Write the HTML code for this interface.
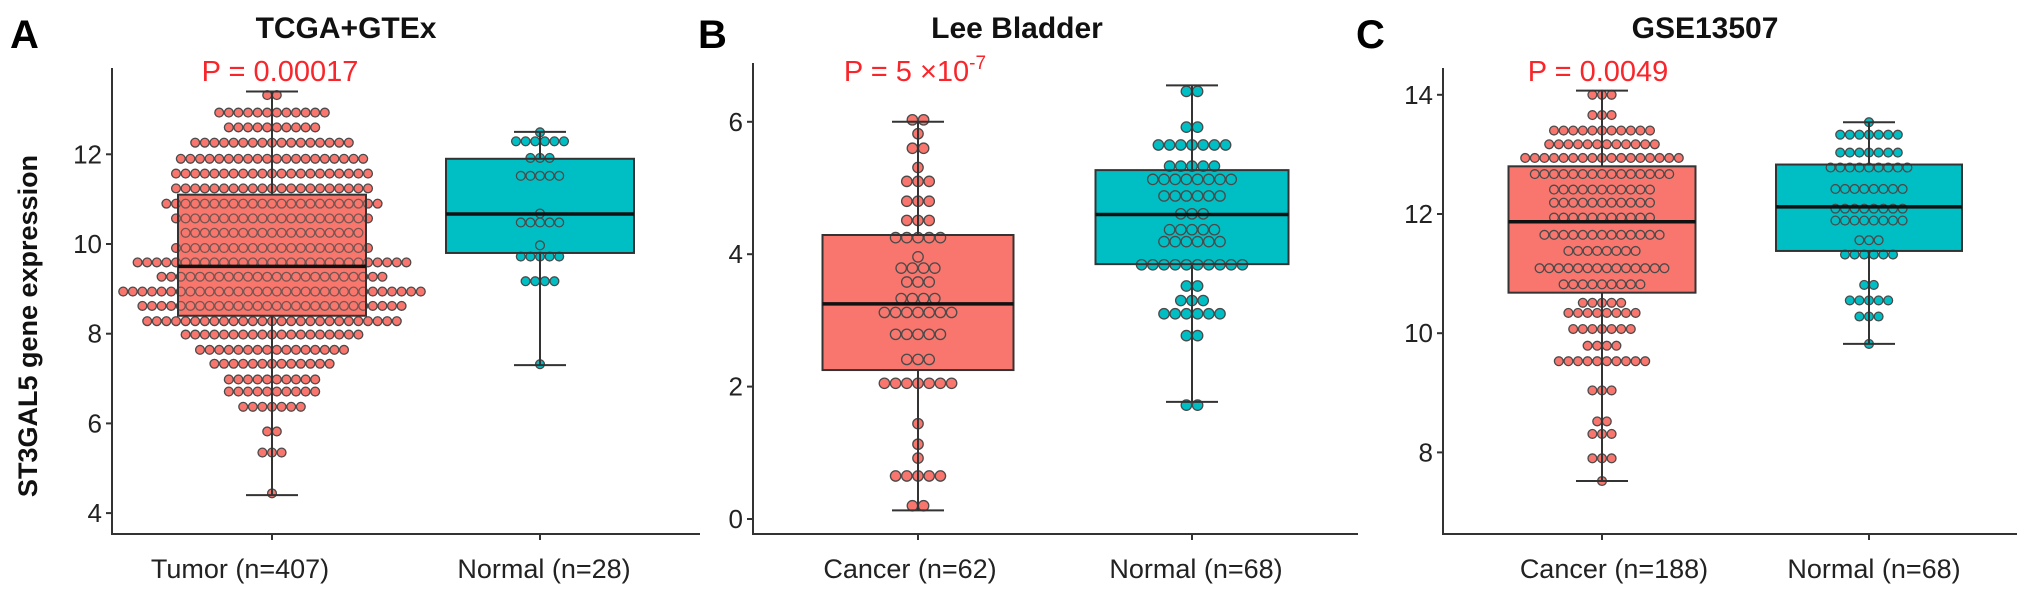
<!DOCTYPE html>
<html><head><meta charset="utf-8">
<style>
html,body{margin:0;padding:0;background:#fff;}
svg{display:block;font-family:"Liberation Sans",Arial,sans-serif;}
</style></head>
<body>
<svg id="fig" width="2031" height="596" viewBox="0 0 2031 596" xmlns="http://www.w3.org/2000/svg">
<text x="10" y="48" font-size="40" font-weight="bold">A</text>
<text x="698" y="48" font-size="40" font-weight="bold">B</text>
<text x="1356" y="48" font-size="40" font-weight="bold">C</text>
<text transform="translate(37,326) rotate(-90)" text-anchor="middle" font-size="27" font-weight="bold" fill="#111">ST3GAL5 gene expression</text>
</svg>
<script>
// ---- Panel A: TCGA+GTEx ----
const aTicks = [4, 6, 8, 10, 12];
const aTumorRowValues = [13.32,12.93,12.6,12.26,11.9,11.57,11.24,10.9,10.57,10.25,9.91,9.59,9.27,8.94,8.62,8.28,7.98,7.64,7.33,6.98,6.71,6.37,5.82,5.35,4.44];
const aTumorRowCounts = [2,12,10,17,20,21,21,23,21,19,21,29,24,32,28,27,19,16,13,10,10,7,2,3,1];
const aTumorBox = [4.4, 8.4, 9.5, 11.1, 13.4];
const aNormalRowValues = [12.49,12.29,11.92,11.52,10.68,10.48,9.97,9.72,9.17,7.32];
const aNormalRowCounts = [1,6,3,5,1,5,1,5,4,1];
const aNormalBox = [7.3, 9.8, 10.67, 11.9, 12.5];
// ---- Panel B: Lee Bladder ----
const bTicks = [0, 2, 4, 6];
const bCancerRowValues = [6.03,5.82,5.6,5.31,5.1,4.8,4.51,4.25,3.96,3.79,3.58,3.33,3.12,2.79,2.41,2.05,1.44,1.13,0.92,0.65,0.2];
const bCancerRowCounts = [2,1,2,1,3,3,3,5,1,4,3,4,7,5,3,7,1,1,1,5,2];
const bCancerBox = [0.13, 2.25, 3.25, 4.29, 6.0];
const bNormalRowValues = [6.46,5.92,5.65,5.33,5.13,4.88,4.61,4.37,4.19,3.84,3.52,3.3,3.1,2.77,1.72];
const bNormalRowCounts = [2,2,7,5,8,6,3,5,6,10,2,3,6,2,2];
const bNormalBox = [1.77, 3.85, 4.6, 5.27, 6.55];
// ---- Panel C: GSE13507 ----
const cTicks = [8, 10, 12, 14];
const cCancerRowValues = [14.0,13.66,13.4,13.17,12.94,12.67,12.41,12.19,11.94,11.65,11.38,11.09,10.82,10.51,10.34,10.07,9.79,9.53,9.04,8.52,8.31,7.9,7.52];
const cCancerRowCounts = [3,3,11,12,17,15,11,11,11,13,8,14,9,5,8,7,4,10,3,2,3,3,1];
const cCancerBox = [7.52, 10.68, 11.87, 12.8, 14.07];
const cNormalRowValues = [13.54,13.33,13.03,12.78,12.42,12.09,11.89,11.56,11.32,10.81,10.55,10.28,9.82];
const cNormalRowCounts = [1,7,7,9,8,8,8,3,6,2,5,3,1];
const cNormalBox = [9.82, 11.38, 12.12, 12.83, 13.54];

const NS = "http://www.w3.org/2000/svg";
const svg = document.getElementById('fig');
function mk(tag, attrs, parent){
  const e = document.createElementNS(NS, tag);
  for (const k in attrs) e.setAttribute(k, attrs[k]);
  (parent||svg).appendChild(e);
  return e;
}

const panels = [
  {id:'a', x0:112, x1:700, yTop:68, yBot:534, v0:10, y0:244, ppu:44.85, ticks:aTicks,
   title:'TCGA+GTEx', titleX:346, pText:'P = 0.00017', pX:280,
   groups:[
     {name:'tumor', label:'Tumor (n=407)', cx:272, labX:240, vals:aTumorRowValues, cnts:aTumorRowCounts, box:aTumorBox, bw:188, fill:'#F8766D', step:9.6},
     {name:'normal', label:'Normal (n=28)', cx:540, labX:544, vals:aNormalRowValues, cnts:aNormalRowCounts, box:aNormalBox, bw:188, fill:'#00BFC4', step:9.6}]},
  {id:'b', x0:753, x1:1358, yTop:63, yBot:534, v0:0, y0:519, ppu:66.2, ticks:bTicks,
   title:'Lee Bladder', titleX:1017, pText:'P = 5 ×10', pSup:'-7', pX:915,
   groups:[
     {name:'cancer', label:'Cancer (n=62)', cx:918, labX:910, vals:bCancerRowValues, cnts:bCancerRowCounts, box:bCancerBox, bw:191, fill:'#F8766D', step:11.2},
     {name:'normal', label:'Normal (n=68)', cx:1192, labX:1196, vals:bNormalRowValues, cnts:bNormalRowCounts, box:bNormalBox, bw:193, fill:'#00BFC4', step:11.2}]},
  {id:'c', x0:1443, x1:2017, yTop:68, yBot:534, v0:12, y0:214, ppu:59.6, ticks:cTicks,
   title:'GSE13507', titleX:1705, pText:'P = 0.0049', pX:1598,
   groups:[
     {name:'cancer', label:'Cancer (n=188)', cx:1602, labX:1614, vals:cCancerRowValues, cnts:cCancerRowCounts, box:cCancerBox, bw:187, fill:'#F8766D', step:9.6},
     {name:'normal', label:'Normal (n=68)', cx:1869, labX:1874, vals:cNormalRowValues, cnts:cNormalRowCounts, box:cNormalBox, bw:186, fill:'#00BFC4', step:9.6}]}
];

panels.forEach(p => {
  const y = v => p.y0 - (v - p.v0) * p.ppu;
  const g = mk('g', {});
  
  
  // title
  const t = mk('text', {x:p.titleX, y:38, 'text-anchor':'middle', 'font-size':30, 'font-weight':'bold', fill:'#111'}, g);
  t.textContent = p.title;
  
  
  // p value
  const pt = mk('text', {x:p.pX, y:81, 'text-anchor':'middle', 'font-size':29, fill:'#F8262B'}, g);
  pt.textContent = p.pText;
  if (p.pSup) {
    const s = mk('tspan', {dy:-12, 'font-size':19}, pt);
    s.textContent = p.pSup;
  }
  
  
  // axes
  const ax = mk('path', {d:`M${p.x0},${p.yTop} V${p.yBot} H${p.x1}`, stroke:'#333', 'stroke-width':2, fill:'none'}, g);
  
  
  p.ticks.forEach(tv => {
    const yy = y(tv);
    mk('line', {x1:p.x0-6, x2:p.x0, y1:yy, y2:yy, stroke:'#333', 'stroke-width':2}, g);
    const tl = mk('text', {x:p.x0-10, y:yy+9, 'text-anchor':'end', 'font-size':26, fill:'#222'}, g);
    tl.textContent = tv;
    
    
  });
  p.groups.forEach(gr => {
    const gg = mk('g', {}, g);
    
    
    mk('line', {x1:gr.cx, x2:gr.cx, y1:p.yBot, y2:p.yBot+6, stroke:'#333', 'stroke-width':2}, gg);
    const xl = mk('text', {x:gr.labX, y:578, 'text-anchor':'middle', 'font-size':27, fill:'#222'}, gg);
    xl.textContent = gr.label;
    
    
    const [lo, q1, med, q3, hi] = gr.box;
    const bx = gr.cx - gr.bw/2;
    const boxFill = mk('rect', {x:bx, y:y(q3), width:gr.bw, height:y(q1)-y(q3), fill:gr.fill}, gg);
    
    
    // dots
    gr.vals.forEach((v, i) => {
      const n = gr.cnts[i];
      for (let k = 0; k < n; k++) {
        const cx = gr.cx + (k - (n-1)/2) * gr.step;
        const c = mk('circle', {cx:cx, cy:y(v), r:gr.step/2 - 0.4, fill:gr.fill, stroke:'#4a4a4a', 'stroke-width':1.3}, gg);
        
        
      }
    });
    // whisker + caps
    mk('line', {x1:gr.cx, x2:gr.cx, y1:y(hi), y2:y(q3), stroke:'#333', 'stroke-width':2}, gg);
    mk('line', {x1:gr.cx, x2:gr.cx, y1:y(q1), y2:y(lo), stroke:'#333', 'stroke-width':2}, gg);
    mk('line', {x1:gr.cx-26, x2:gr.cx+26, y1:y(hi), y2:y(hi), stroke:'#333', 'stroke-width':2}, gg);
    mk('line', {x1:gr.cx-26, x2:gr.cx+26, y1:y(lo), y2:y(lo), stroke:'#333', 'stroke-width':2}, gg);
    if (gr.name === 'tumor') {
      mk('rect', {x:bx, y:y(q3), width:gr.bw, height:y(q1)-y(q3), fill:gr.fill, 'fill-opacity':0.25}, gg);
    }
    mk('rect', {x:bx, y:y(q3), width:gr.bw, height:y(q1)-y(q3), fill:'none', stroke:'#333', 'stroke-width':2}, gg);
    const md = mk('line', {x1:bx, x2:bx+gr.bw, y1:y(med), y2:y(med), stroke:'#111', 'stroke-width':3.5}, gg);
    
    
  });
});
</script>
</body></html>
